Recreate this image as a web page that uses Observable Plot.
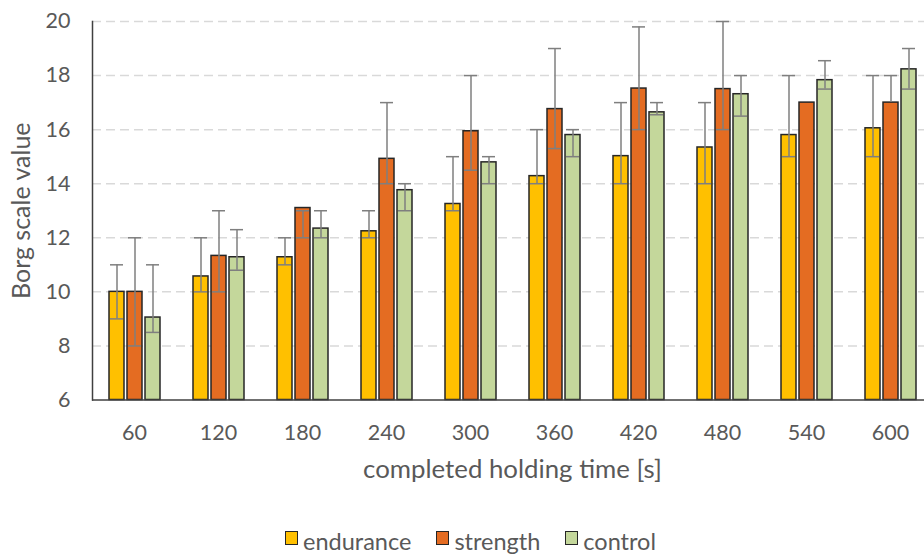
<!DOCTYPE html>
<html><head><meta charset="utf-8">
<script src="https://cdn.jsdelivr.net/npm/d3@7"></script>
<script src="https://cdn.jsdelivr.net/npm/@observablehq/plot@0.6"></script>
<style>
body{margin:0;background:#fff;width:924px;height:556px;overflow:hidden;position:relative;font-family:Lato,sans-serif;}
#chart svg{display:block;overflow:visible;}
#chart svg g[aria-label="y-axis label"] text{font-size:25px;}
#chart svg g[aria-label="fx-axis label"] text{font-size:25.8px;}
#legend{position:absolute;left:0;width:941px;top:530px;display:flex;justify-content:center;align-items:center;font-size:23.5px;line-height:1;color:#595959;}
#legend .item{display:flex;align-items:center;margin:0 12.5px;}
#legend .sw{width:11px;height:12px;border:1.5px solid #262626;margin-right:5px;margin-bottom:7px;}
</style></head><body><div id="chart"></div><div id="legend"></div>
<script>
const times = [60, 120, 180, 240, 300, 360, 420, 480, 540, 600];
const series = ["endurance", "strength", "control"];
const colors = ["#FFC000", "#E46C22", "#C4D79B"];
const yTicks = [6, 8, 10, 12, 14, 16, 18, 20];

const endurance = [10.0, 10.57, 11.28, 12.24, 13.25, 14.28, 15.02, 15.34, 15.8, 16.05];
const enduranceHi = [11, 12, 12, 13, 15, 16, 17, 17, 18, 18];
const enduranceLo = [9, 10, 11, 12, 13, 14, 14, 14, 15, 15];

const strength = [10.0, 11.33, 13.1, 14.92, 15.94, 16.76, 17.52, 17.5, 17.0, 17.0];
const strengthHi = [12, 13, 13, 17, 18, 19, 19.8, 20, null, 18];
const strengthLo = [8, 10, 12, 14, 14.5, 15.3, 16, 16, null, null];

const control = [9.05, 11.28, 12.34, 13.76, 14.79, 15.8, 16.64, 17.31, 17.83, 18.23];
const controlHi = [11, 12.3, 13, 14, 15, 16, 17, 18, 18.55, 19];
const controlLo = [8.5, 10.8, 12, 13, 14, 15, 16.55, 16.5, 17.5, 17.5];

const valueSets = {endurance, strength, control};
const hiSets = {endurance: enduranceHi, strength: strengthHi, control: controlHi};
const loSets = {endurance: enduranceLo, strength: strengthLo, control: controlLo};

const rows = [];
times.forEach((t, i) => {
  series.forEach(s => {
    rows.push({time: t, series: s, value: valueSets[s][i], hi: hiSets[s][i], lo: loSets[s][i]});
  });
});

const errColor = "#7f7f7f";
const chart = Plot.plot({
  width: 924,
  height: 490,
  marginLeft: 92,
  marginRight: -8,
  marginTop: 21,
  marginBottom: 90.5,
  style: {fontFamily: "Lato, sans-serif", fontSize: "21.5px", color: "#595959", background: "#fff", overflow: "visible"},
  fx: {domain: times, padding: 0},
  x: {domain: series, paddingInner: 0.17, paddingOuter: 0.8275, axis: null},
  y: {domain: [6, 20], clamp: true},
  color: {domain: series, range: colors},
  marks: [
    Plot.ruleY(yTicks.slice(1), {stroke: "#d9d9d9", strokeWidth: 1.5, strokeDasharray: "9,5"}),
    Plot.barY(rows, {fx: "time", x: "series", y: "value", fill: "series", stroke: "#262626", strokeWidth: 1.5}),
    Plot.ruleX(rows, {fx: "time", x: "series", y1: d => d.lo ?? d.value, y2: "hi", stroke: errColor, strokeWidth: 1.5}),
    Plot.tickY(rows, {fx: "time", x: "series", y: "hi", stroke: errColor, strokeWidth: 1.5, insetLeft: 1, insetRight: 1}),
    Plot.tickY(rows, {fx: "time", x: "series", y: "lo", stroke: errColor, strokeWidth: 1.5, insetLeft: 1, insetRight: 1}),
    Plot.ruleY([6], {stroke: "#404040", strokeWidth: 1.5}),
    Plot.frame({anchor: "left", facetAnchor: "left", stroke: "#404040", strokeWidth: 1.5}),
    Plot.axisY({ticks: yTicks, tickSize: 0, tickPadding: 22, label: "Borg scale value", labelAnchor: "center", labelArrow: "none", labelOffset: 80}),
    Plot.axisFx({anchor: "bottom", tickSize: 0, tickPadding: 25, label: "completed holding time [s]", labelAnchor: "center", labelArrow: "none", labelOffset: 78})
  ]
});
document.getElementById("chart").appendChild(chart);

const legend = document.getElementById("legend");
series.forEach((s, i) => {
  const item = document.createElement("div");
  item.className = "item";
  const sw = document.createElement("span");
  sw.className = "sw";
  sw.style.background = colors[i];
  const label = document.createElement("span");
  label.textContent = s;
  item.appendChild(sw);
  item.appendChild(label);
  legend.appendChild(item);
});
</script></body></html>
